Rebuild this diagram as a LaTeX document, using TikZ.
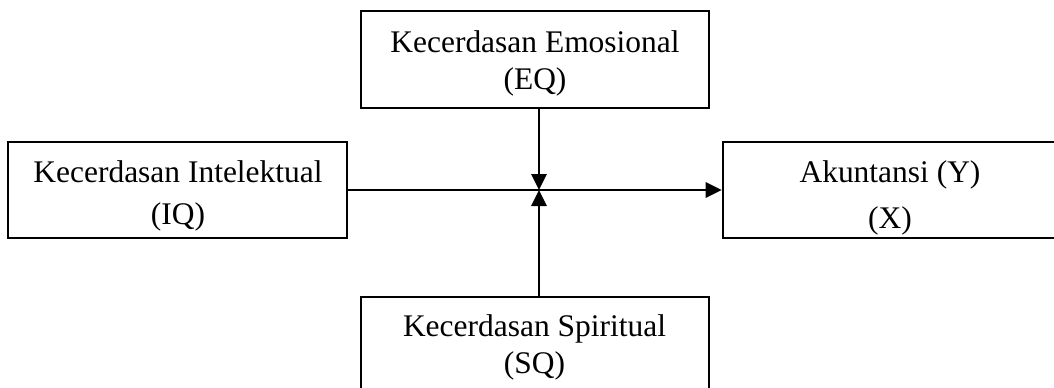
\documentclass[tikz,border=0pt]{standalone}
\usepackage{fontspec}
\setmainfont{Liberation Serif}
\usetikzlibrary{arrows.meta}
\begin{document}
\begin{tikzpicture}[x=0.75pt,y=-0.75pt,
  box/.style={draw, line width=1.5pt, inner sep=0pt},
  txt/.style={align=center, inner sep=0pt, anchor=north},
  arr/.style={line width=1.5pt, -{Triangle[length=12pt,width=11.5pt]}}]
\useasboundingbox (0,0) rectangle (1054,387);
% boxes
\node[box, minimum width=261.5pt, minimum height=72.5pt] (eq) at (535,59.3) {};
\node[box, minimum width=253.8pt, minimum height=71.6pt] (iq) at (177.5,190) {};
\node[box, minimum width=251pt, minimum height=71.6pt] (y) at (890,190) {};
\node[box, minimum width=261.5pt, minimum height=72.2pt] (sq) at (535,344.9) {};
% texts
\node[txt, font=\fontsize{23.6pt}{28.2pt}\selectfont] (eqt) at (535,30.2) {Kecerdasan Emosional\\(EQ)};
\node[txt, font=\fontsize{23.6pt}{31.9pt}\selectfont] (iqt) at (178,160.2) {Kecerdasan Intelektual\\(IQ)};
\node[txt, font=\fontsize{23.6pt}{34.5pt}\selectfont] (yt) at (890,160.2) {Akuntansi (Y)\\(X)};
\node[txt, font=\fontsize{23.6pt}{27.5pt}\selectfont] (sqt) at (534.5,314.5) {Kecerdasan Spiritual\\(SQ)};
% connectors
\coordinate (j) at (539,190);
\draw[arr] (iq.east) -- (y.west);
\draw[arr] (eq.south -| j) -- (j);
\draw[arr] (sq.north -| j) -- (j);
\end{tikzpicture}
\end{document}
